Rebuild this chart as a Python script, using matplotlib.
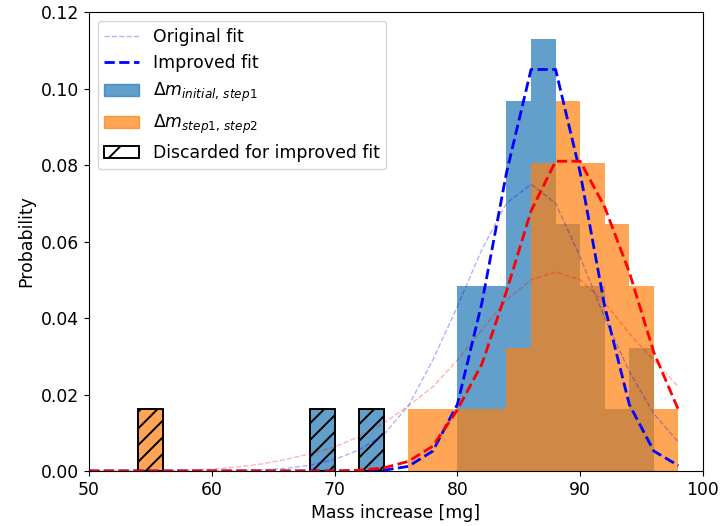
import matplotlib
matplotlib.use("Agg")
import matplotlib.pyplot as plt
import numpy as np
from matplotlib.lines import Line2D
from matplotlib.patches import Patch

# Histogram data (bin left edges, bin width 2 mg, counts per bin)
bin_width = 2
bins_initial = [68, 72, 80, 82, 84, 86, 88, 90, 92, 94]
counts_initial = [1, 1, 3, 3, 6, 7, 4, 3, 1, 2]
discarded_initial = [68, 72]

bins_step2 = [54, 76, 78, 80, 82, 84, 86, 88, 90, 92, 94, 96]
counts_step2 = [1, 1, 1, 1, 1, 2, 5, 6, 5, 4, 3, 1]
discarded_step2 = [54]

# Fit curves at every 2 mg
fit_x = list(range(50, 100, 2))
orig_initial = [0, 0, 0, 0, 0, 0, 0.0001, 0.0003, 0.0007, 0.0015, 0.003, 0.0055,
                0.0095, 0.017, 0.029, 0.043, 0.058, 0.070, 0.075, 0.070, 0.056,
                0.040, 0.026, 0.015, 0.0075]
orig_step2 = [0, 0, 0, 0.0001, 0.0002, 0.0005, 0.001, 0.0018, 0.003, 0.0045, 0.0063,
              0.009, 0.0125, 0.017, 0.022, 0.029, 0.037, 0.0447, 0.050, 0.052, 0.050,
              0.044, 0.036, 0.029, 0.022]
improved_initial = [0, 0, 0, 0, 0, 0, 0, 0, 0, 0, 0, 0, 0.0002, 0.0012, 0.0052,
                    0.0174, 0.044, 0.078, 0.105, 0.105, 0.078, 0.043, 0.0174,
                    0.0052, 0.0014]
improved_step2 = [0, 0, 0, 0, 0, 0, 0, 0, 0, 0, 0, 0.0002, 0.0008, 0.0025, 0.0065,
                  0.016, 0.028, 0.047, 0.068, 0.081, 0.081, 0.069, 0.052, 0.031,
                  0.016]

plt.rcParams["font.size"] = 12.4
plt.rcParams["hatch.linewidth"] = 1.4

blue = (31/255, 119/255, 180/255, 0.7)
orange = (1.0, 127/255, 14/255, 0.7)

fig = plt.figure(figsize=(7.21, 5.26), dpi=100)
ax = fig.add_axes([0.1234, 0.1046, 0.8516, 0.8724])


def draw_hist(bins, counts, discarded, color):
    counts = np.array(counts, dtype=float)
    prob = counts / (counts.sum() * bin_width)
    for b, p in zip(bins, prob):
        if b in discarded:
            ax.bar(b, p, width=bin_width, align="edge", facecolor=color,
                   edgecolor="k", hatch="//", linewidth=1.4)
        else:
            ax.bar(b, p, width=bin_width, align="edge", color=color, linewidth=0)


draw_hist(bins_initial, counts_initial, discarded_initial, blue)
draw_hist(bins_step2, counts_step2, discarded_step2, orange)

ax.plot(fit_x, orig_initial, "b--", lw=1, alpha=0.3)
ax.plot(fit_x, orig_step2, "r--", lw=1, alpha=0.3)
ax.plot(fit_x, improved_initial, "b--", lw=2)
ax.plot(fit_x, improved_step2, "r--", lw=2)

ax.set_xlim(50, 100)
ax.set_ylim(0, 0.12)
ax.set_xlabel("Mass increase [mg]")
ax.set_ylabel("Probability")

handles = [
    Line2D([], [], color="b", ls="--", lw=1, alpha=0.3),
    Line2D([], [], color="b", ls="--", lw=2),
    Patch(color=blue),
    Patch(color=orange),
    Patch(facecolor="white", edgecolor="k", hatch="/", linewidth=1.4),
]
labels = ["Original fit", "Improved fit", r"$\Delta m_{initial,\,step1}$",
          r"$\Delta m_{step1,\,step2}$", "Discarded for improved fit"]
ax.legend(handles, labels, loc="upper left")

fig.savefig("out.png", dpi=100)
